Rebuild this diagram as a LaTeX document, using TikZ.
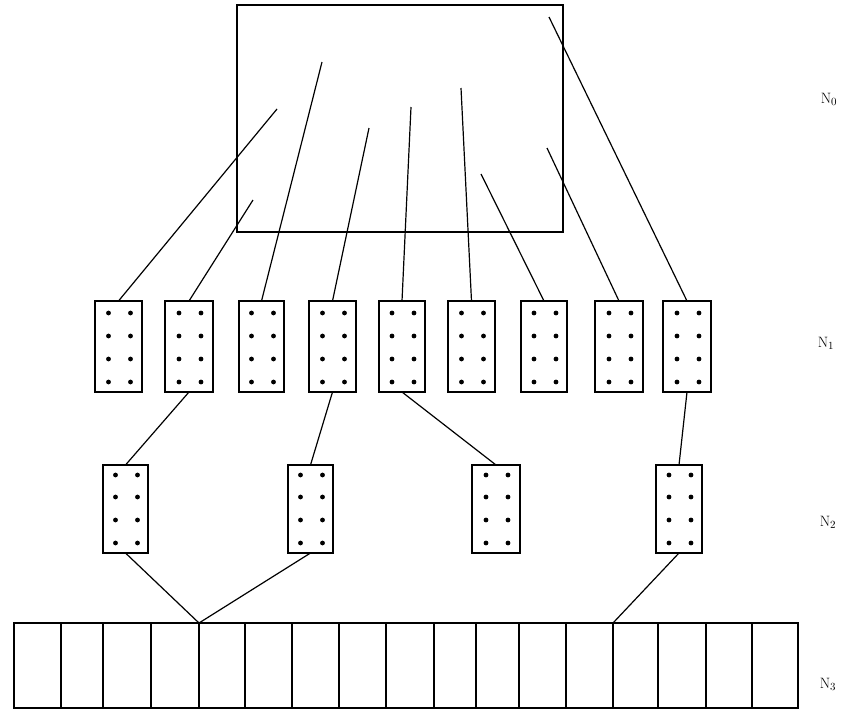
\documentclass[tikz,border=0pt]{standalone}
\begin{document}
\begin{tikzpicture}[x=1pt,y=-1pt,
  frame/.style={draw=black,line width=1.8pt,inner sep=0pt,outer sep=0pt},
  conn/.style={draw=black,line width=1.2pt},
  dotmark/.style={fill=black},
  lbl/.style={font=\fontsize{15}{17}\selectfont,inner sep=0pt}]
\useasboundingbox (0,0) rectangle (854,715);
% N0 big box
\node[frame,minimum width=326pt,minimum height=227pt] (n0) at (400,118.5) {};
% inner points of N0
\coordinate (p1) at (277,109);
\coordinate (p2) at (253,200);
\coordinate (p3) at (322,62);
\coordinate (p4) at (369,128);
\coordinate (p5) at (411,107);
\coordinate (p6) at (461,88);
\coordinate (p7) at (481,174);
\coordinate (p8) at (547,148);
\coordinate (p9) at (549,17);
% N1 boxes
\foreach \i/\l/\r in {1/95/142,2/165/213,3/239/284,4/309/356,5/379/425,6/448/495,7/521/567,8/595/643,9/663/711}{
  \pgfmathsetmacro{\c}{(\l+\r)/2}
  \pgfmathsetmacro{\w}{\r-\l}
  \node[frame,minimum width=\w pt,minimum height=91pt] (a\i) at (\c,346.5) {};
  \foreach \yy in {313,336,359,382}{
    \fill[dotmark] (\c-10,\yy) circle (2.4pt);
    \fill[dotmark] (\c+12,\yy) circle (2.4pt);
  }
}
% N2 boxes
\foreach \i/\l/\r in {1/103/148,2/288/333,3/472/520,4/656/702}{
  \pgfmathsetmacro{\c}{(\l+\r)/2}
  \pgfmathsetmacro{\w}{\r-\l}
  \node[frame,minimum width=\w pt,minimum height=88pt] (b\i) at (\c,509) {};
  \foreach \yy in {475,497,520,543}{
    \fill[dotmark] (\c-10,\yy) circle (2.4pt);
    \fill[dotmark] (\c+12,\yy) circle (2.4pt);
  }
}
% N3 row of cells
\foreach \i/\l/\r in {1/14/61,2/61/103,3/103/151,4/151/199,5/199/245,6/245/292,7/292/339,8/339/386,9/386/434,10/434/476,11/476/519,12/519/566,13/566/613,14/613/658,15/658/706,16/706/752,17/752/798}{
  \pgfmathsetmacro{\c}{(\l+\r)/2}
  \pgfmathsetmacro{\w}{\r-\l}
  \node[frame,minimum width=\w pt,minimum height=85pt] (c\i) at (\c,665.5) {};
}
% connectors N0 -> N1
\foreach \i in {1,...,9}{
  \draw[conn] (p\i) -- (a\i.north);
}
% connectors N1 -> N2
\draw[conn] (a2.south) -- (b1.north);
\draw[conn] (a4.south) -- (b2.north);
\draw[conn] (a5.south) -- (b3.north);
\draw[conn] (a9.south) -- (b4.north);
% connectors N2 -> N3
\draw[conn] (b1.south) -- (c4.north east);
\draw[conn] (b2.south) -- (c4.north east);
\draw[conn] (b4.south) -- (c13.north east);
% labels
\node[lbl] (l0) at (829,99) {N$_0$};
\node[lbl] (l1) at (826,343) {N$_1$};
\node[lbl] (l2) at (828,522) {N$_2$};
\node[lbl] (l3) at (828,684) {N$_3$};
\end{tikzpicture}
\end{document}
